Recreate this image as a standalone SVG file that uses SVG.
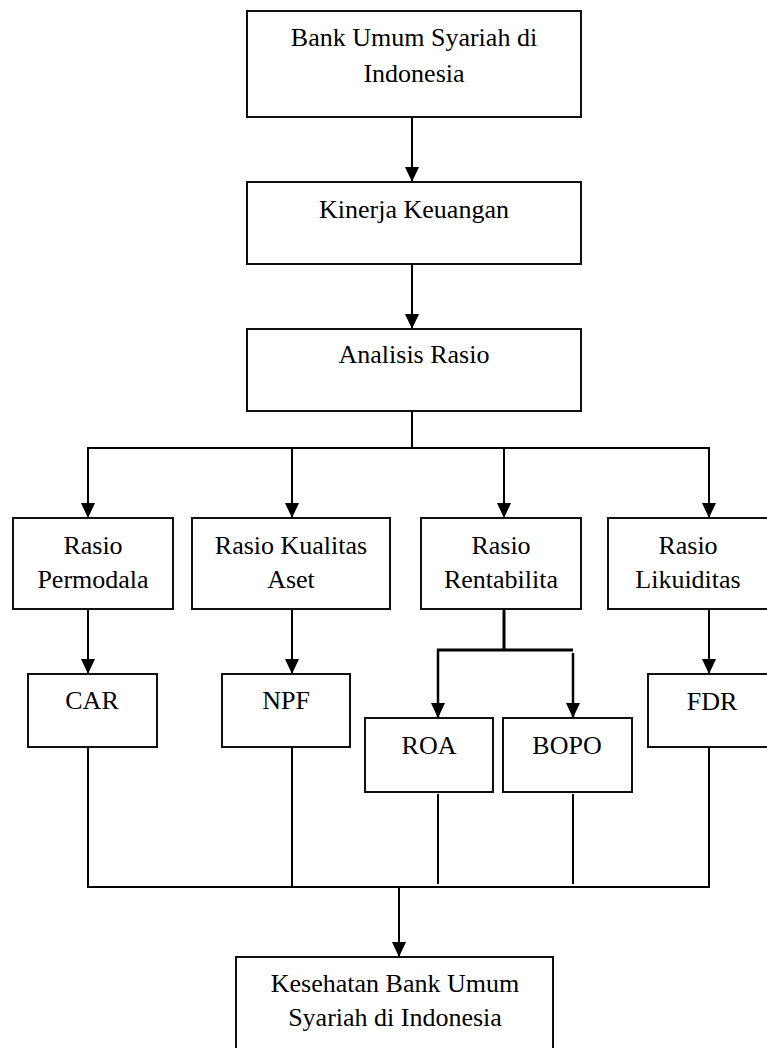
<svg xmlns="http://www.w3.org/2000/svg" width="767" height="1048" viewBox="0 0 767 1048">
<style>
.box{fill:#fff;stroke:#111;stroke-width:2}
text{font-family:'Liberation Serif','Times New Roman',Tinos,'DejaVu Serif',serif;font-size:26px;fill:#000;text-anchor:middle}
.c{fill:none;stroke:#000;stroke-width:2}
.k{fill:none;stroke:#000;stroke-width:3}
</style>
<defs>
<marker id="ah" viewBox="0 0 15 14" refX="15" refY="7" markerWidth="15" markerHeight="14" markerUnits="userSpaceOnUse" orient="auto">
<path d="M0,0 L15,7 L0,14 z" fill="#000"/>
</marker>
</defs>
<g id="connectors">
<line class="c" x1="412" y1="117" x2="412" y2="182" marker-end="url(#ah)"/>
<line class="c" x1="412" y1="264" x2="412" y2="329" marker-end="url(#ah)"/>
<polyline class="c" points="412,411 412,448"/>
<line class="c" x1="87" y1="448" x2="710" y2="448"/>
<line class="c" x1="88" y1="448" x2="88" y2="518" marker-end="url(#ah)"/>
<line class="c" x1="292" y1="448" x2="292" y2="518" marker-end="url(#ah)"/>
<line class="c" x1="504" y1="448" x2="504" y2="518" marker-end="url(#ah)"/>
<line class="c" x1="709" y1="448" x2="709" y2="518" marker-end="url(#ah)"/>
<line class="c" x1="88" y1="609" x2="88" y2="674" marker-end="url(#ah)"/>
<line class="c" x1="292" y1="609" x2="292" y2="674" marker-end="url(#ah)"/>
<line class="c" x1="709" y1="609" x2="709" y2="674" marker-end="url(#ah)"/>
<line class="k" x1="504" y1="609" x2="504" y2="650"/>
<line class="k" x1="437" y1="650" x2="573" y2="650"/>
<line class="c" style="stroke-width:2.5" x1="438" y1="650" x2="438" y2="718" marker-end="url(#ah)"/>
<line class="c" style="stroke-width:2.5" x1="573" y1="653" x2="573" y2="718" marker-end="url(#ah)"/>
<line class="c" x1="88" y1="747" x2="88" y2="887"/>
<line class="c" x1="292" y1="747" x2="292" y2="887"/>
<line class="c" x1="438" y1="794" x2="438" y2="884"/>
<line class="c" x1="573" y1="794" x2="573" y2="884"/>
<line class="c" x1="709" y1="747" x2="709" y2="887"/>
<line class="c" x1="87" y1="887" x2="710" y2="887"/>
<line class="c" x1="399" y1="887" x2="399" y2="957" marker-end="url(#ah)"/>
</g>
<g id="bank-umum">
<rect class="box" x="247" y="11" width="334" height="106"/>
<text x="414" y="46">Bank Umum Syariah di</text>
<text x="414" y="82">Indonesia</text>
</g>
<g id="kinerja">
<rect class="box" x="247" y="182" width="334" height="82"/>
<text x="414" y="218">Kinerja Keuangan</text>
</g>
<g id="analisis">
<rect class="box" x="247" y="329" width="334" height="82"/>
<text x="414" y="363">Analisis Rasio</text>
</g>
<g id="permodala">
<rect class="box" x="13" y="518" width="160" height="91"/>
<text x="93" y="554">Rasio</text>
<text x="93" y="588">Permodala</text>
</g>
<g id="kualitas">
<rect class="box" x="192" y="518" width="198" height="91"/>
<text x="291" y="554">Rasio Kualitas</text>
<text x="291" y="588">Aset</text>
</g>
<g id="rentabilita">
<rect class="box" x="421" y="518" width="160" height="91"/>
<text x="501" y="554">Rasio</text>
<text x="501" y="588">Rentabilita</text>
</g>
<g id="likuiditas">
<rect class="box" x="608" y="518" width="160" height="91"/>
<text x="688" y="554">Rasio</text>
<text x="688" y="588">Likuiditas</text>
</g>
<g id="car">
<rect class="box" x="28" y="674" width="129" height="73"/>
<text x="92" y="709">CAR</text>
</g>
<g id="npf">
<rect class="box" x="222" y="674" width="128" height="73"/>
<text x="286" y="709">NPF</text>
</g>
<g id="roa">
<rect class="box" x="365" y="718" width="128" height="74"/>
<text x="429" y="754">ROA</text>
</g>
<g id="bopo">
<rect class="box" x="503" y="718" width="129" height="74"/>
<text x="567" y="754">BOPO</text>
</g>
<g id="fdr">
<rect class="box" x="648" y="674" width="128" height="73"/>
<text x="712" y="710">FDR</text>
</g>
<g id="kesehatan">
<rect class="box" x="236" y="957" width="317" height="100"/>
<text x="395" y="992">Kesehatan Bank Umum</text>
<text x="395" y="1026">Syariah di Indonesia</text>
</g>
</svg>
